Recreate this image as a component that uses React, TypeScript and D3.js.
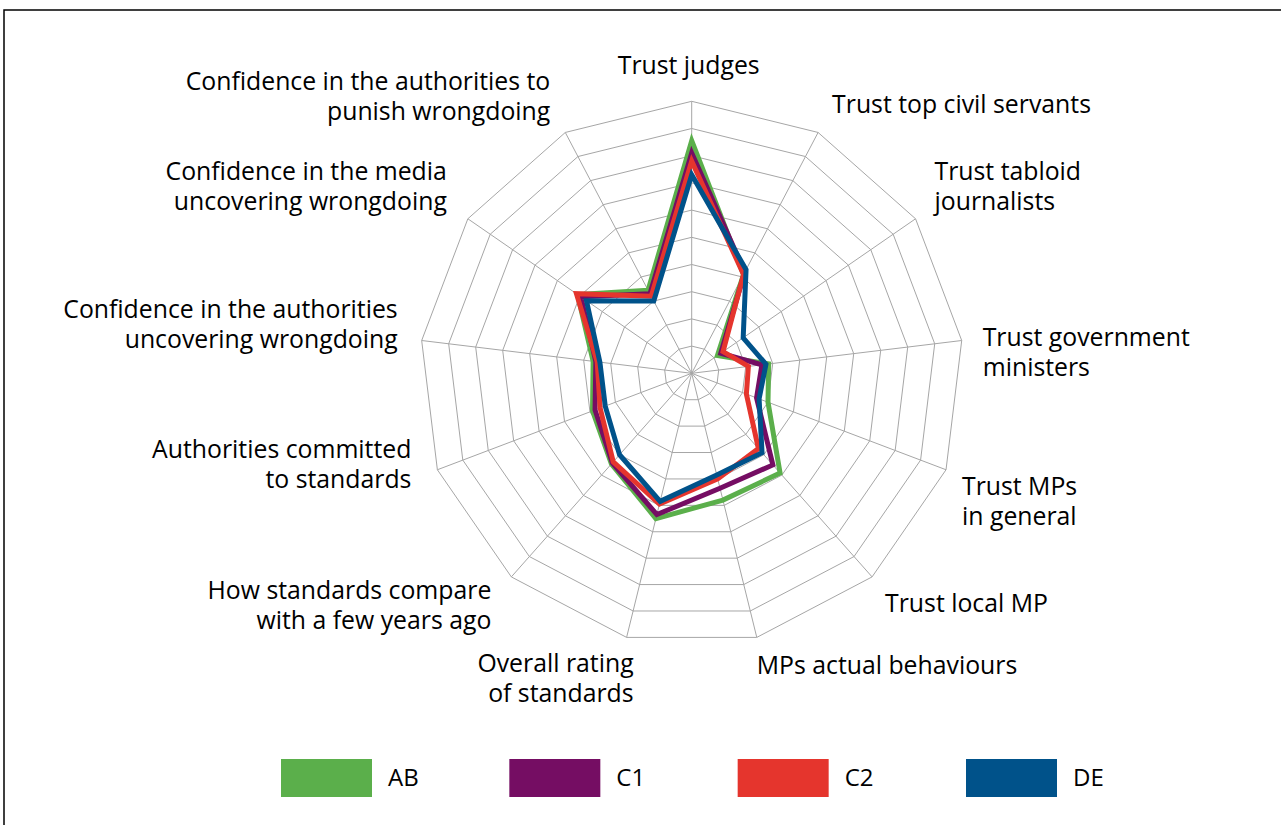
import React from "react";
import * as d3 from "d3";

const axisLabels: string[][] = [
  ["Trust judges"],
  ["Trust top civil servants"],
  ["Trust tabloid", "journalists"],
  ["Trust government", "ministers"],
  ["Trust MPs", "in general"],
  ["Trust local MP"],
  ["MPs actual behaviours"],
  ["Overall rating", "of standards"],
  ["How standards compare", "with a few years ago"],
  ["Authorities committed", "to standards"],
  ["Confidence in the authorities", "uncovering wrongdoing"],
  ["Confidence in the media", "uncovering wrongdoing"],
  ["Confidence in the authorities to", "punish wrongdoing"],
];

const seriesNames = ["AB", "C1", "C2", "DE"];
const abValues = [85.5, 41, 11.5, 28.5, 30, 49, 48, 55, 44.5, 39, 36.5, 51, 34.5];
const c1Values = [81, 42, 13, 26, 25.5, 45, 43.5, 53.5, 44, 38, 35.5, 49.5, 33];
const c2Values = [78, 41, 14, 21, 21.5, 37, 40, 49.5, 43.5, 36, 35, 51.5, 32];
const deValues = [73, 43, 23, 27.5, 26.5, 39, 38.5, 48.5, 40, 34, 34, 47, 30];
const seriesColors = ["#5BAF4B", "#750D63", "#E5352D", "#00528A"];
const ringTicks = [10, 20, 30, 40, 50, 60, 70, 80, 90, 100];

// label layout: anchor side and offset from the axis end point
const labelLayout: { anchor: string; dx: number; dy: number }[] = [
  { anchor: "middle", dx: -3, dy: -36 },
  { anchor: "start", dx: 14, dy: -28 },
  { anchor: "start", dx: 19, dy: -47 },
  { anchor: "start", dx: 21, dy: -3.5 },
  { anchor: "start", dx: 16, dy: 17 },
  { anchor: "start", dx: 13, dy: 26 },
  { anchor: "start", dx: 0, dy: 28 },
  { anchor: "end", dx: 7, dy: 26 },
  { anchor: "end", dx: -20, dy: 13 },
  { anchor: "end", dx: -26, dy: -20 },
  { anchor: "end", dx: -24, dy: -31.5 },
  { anchor: "end", dx: -21, dy: -47 },
  { anchor: "end", dx: -15, dy: -51 },
];

const W = 1281;
const H = 825;
const cx = 691.7;
const cy = 373.3;
const R = 272;
const FONT = "'Open Sans', 'Noto Sans', sans-serif";
const FS = 24.8;

export default function App() {
  const n = axisLabels.length;
  const rScale = d3.scaleLinear().domain([0, 100]).range([0, R]);
  const angle = d3.scaleLinear().domain([0, n]).range([0, 2 * Math.PI]);
  const idx = d3.range(n);
  const pt = (i: number, v: number): [number, number] => {
    const a = angle(i);
    return [cx + rScale(v) * Math.sin(a), cy - rScale(v) * Math.cos(a)];
  };
  const lineGen = d3
    .lineRadial<number>()
    .angle((_d, i) => angle(i))
    .radius((d) => rScale(d))
    .curve(d3.curveLinearClosed);
  const allSeries = [abValues, c1Values, c2Values, deValues];
  const legendX = d3.scaleLinear().domain([0, 3]).range([281, 966]);
  const lineH = 30;

  return (
    <svg
      width={W}
      height={H}
      style={{ position: "absolute", left: 0, top: 0, background: "#fff" }}
      fontFamily={FONT}
    >
      <rect x={4} y={10} width={W + 10} height={H + 10} fill="#fff" stroke="#000" strokeWidth={1.5} />
      <g>
        {ringTicks.map((t) => (
          <polygon
            key={t}
            points={idx.map((i) => pt(i, t).join(",")).join(" ")}
            fill="none"
            stroke="#A6A6A6"
            strokeWidth={1}
          />
        ))}
        {idx.map((i) => {
          const [x2, y2] = pt(i, 100);
          return <line key={i} x1={cx} y1={cy} x2={x2} y2={y2} stroke="#A6A6A6" strokeWidth={1} />;
        })}
      </g>
      <g transform={`translate(${cx},${cy})`}>
        {allSeries.map((vals, s) => (
          <path
            key={s}
            d={lineGen(vals) || ""}
            fill="none"
            stroke={seriesColors[s]}
            strokeWidth={5}
            strokeLinejoin="miter"
          />
        ))}
      </g>
      <g fontSize={FS} fill="#000">
        {axisLabels.map((lines, i) => {
          const [ex, ey] = pt(i, 100);
          const L = labelLayout[i];
          return (
            <text key={i} textAnchor={L.anchor}>
              {lines.map((ln, j) => (
                <tspan key={j} x={ex + L.dx} y={ey + L.dy + j * lineH} dy="0.35em">
                  {ln}
                </tspan>
              ))}
            </text>
          );
        })}
      </g>
      <g>
        {seriesNames.map((name, s) => (
          <g key={name} transform={`translate(${legendX(s)},759)`}>
            <rect x={0} y={0} width={91} height={38} fill={seriesColors[s]} />
            <text x={107} y={19} dy="0.35em" fontSize={24} fill="#000">
              {name}
            </text>
          </g>
        ))}
      </g>
    </svg>
  );
}
